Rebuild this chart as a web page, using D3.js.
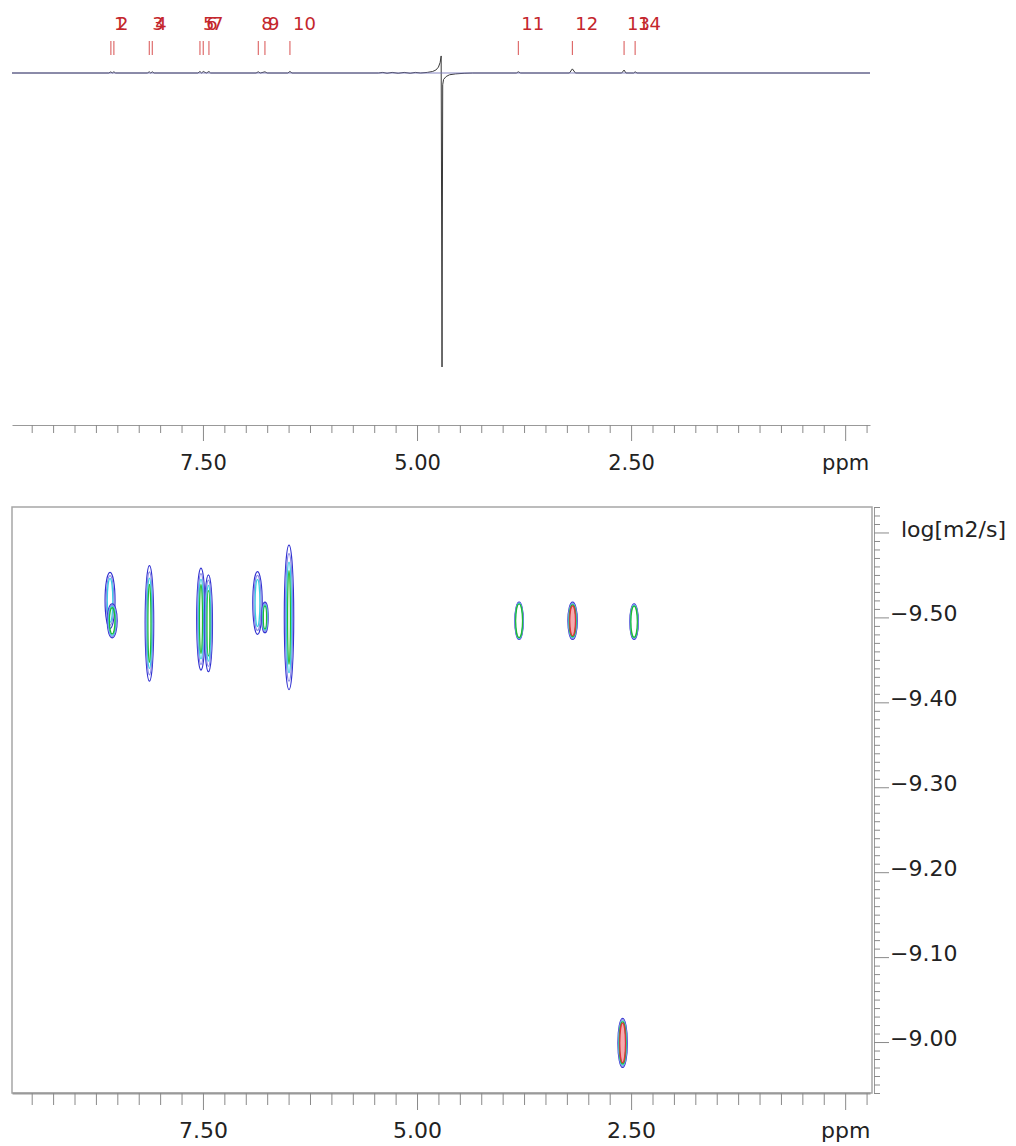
<!DOCTYPE html>
<html>
<head>
<meta charset="utf-8">
<script src="https://cdn.jsdelivr.net/npm/d3@7"></script>
<style>
  body { margin: 0; background: #fff; }
  svg text { font-family: "DejaVu Sans", sans-serif; }
</style>
</head>
<body>
<div id="chart"></div>
<script>
// peak picking on the 1D trace
const peakNums = [1, 2, 3, 4, 5, 6, 7, 8, 9, 10, 11, 12, 13, 14];
const peakPpm = [8.575, 8.540, 8.127, 8.092, 7.535, 7.497, 7.430, 6.854, 6.776, 6.484, 3.817, 3.186, 2.582, 2.453];

// 1D trace, [ppm, intensity] (water signal = -100)
const spectrum = [
  [9.73, 0], [8.60, 0], [8.575, 0.4], [8.56, 0], [8.54, 0.4], [8.52, 0],
  [8.15, 0], [8.127, 0.4], [8.11, 0], [8.092, 0.4], [8.07, 0],
  [7.56, 0], [7.535, 0.5], [7.515, 0], [7.497, 0.5], [7.46, 0], [7.43, 0.5], [7.41, 0],
  [6.88, 0], [6.854, 0.4], [6.83, 0], [6.776, 0.4], [6.75, 0],
  [6.51, 0], [6.484, 0.5], [6.46, 0],
  [5.45, 0], [5.40, 0.2], [5.35, -0.1], [5.29, 0.2], [5.22, -0.1], [5.15, 0.2], [5.08, -0.1],
  [5.02, 0.2], [4.96, 0], [4.88, 0.2], [4.82, 0.5], [4.78, 1.0], [4.75, 2.0], [4.73, 3.6],
  [4.718, 5.8], [4.708, -100], [4.700, -4.0], [4.69, -2.2], [4.66, -1.2], [4.62, -0.6],
  [4.55, -0.3], [4.45, -0.1], [4.35, 0],
  [3.84, 0], [3.817, 0.4], [3.79, 0],
  [3.22, 0], [3.186, 1.4], [3.15, 0],
  [2.61, 0], [2.582, 1.0], [2.56, 0], [2.47, 0], [2.453, 0.4], [2.43, 0],
  [-0.29, 0]
];

// DOSY cross peaks: centre, half extent of outer contour,
// number of contour levels and relative size of the innermost one
const blobPpm      = [8.585, 8.560, 8.125, 7.523, 7.436, 6.863, 6.776, 6.495, 3.808, 3.183, 2.465, 2.599];
const blobLogD     = [-9.520, -9.496, -9.493, -9.498, -9.493, -9.517, -9.500, -9.500, -9.496, -9.496, -9.495, -8.999];
const blobHalfPpm  = [0.058, 0.058, 0.050, 0.050, 0.047, 0.055, 0.037, 0.055, 0.050, 0.055, 0.050, 0.055];
const blobHalfLogD = [0.033, 0.020, 0.068, 0.060, 0.057, 0.037, 0.018, 0.085, 0.022, 0.022, 0.021, 0.029];
const blobLevels   = [3, 4, 4, 4, 4, 3, 4, 4, 4, 5, 4, 5];
const blobCore     = [0.55, 0.55, 0.35, 0.35, 0.35, 0.5, 0.5, 0.3, 0.8, 0.6, 0.75, 0.6];

const ppmMajor = [7.5, 5.0, 2.5, 0];
const logDMajor = [-9.6, -9.5, -9.4, -9.3, -9.2, -9.1, -9.0];

const levelColors = ["#3030d0", "#8c8ce6", "#3ccfe2", "#22b832", "#e0303a"];

const W = 1016, H = 1146;
const svg = d3.select("#chart").append("svg")
  .attr("width", W).attr("height", H);

const x = d3.scaleLinear().domain([9.73, -0.29]).range([12, 870]);
const yTop = d3.scaleLinear().domain([-100, 0]).range([367, 73]);
const y = d3.scaleLinear().domain([-9.63, -8.94]).range([507, 1093]);

const minorPpm = d3.range(9.5, -0.3, -0.25).filter(v => !ppmMajor.some(m => Math.abs(m - v) < 1e-6));
const ppmFmt = d => d === 0 ? "ppm" : d3.format(".2f")(d);

function styleAxis(g, size) {
  g.selectAll("path.domain").attr("stroke", "#999");
  g.selectAll("line").attr("stroke", "#8a8a8a");
  g.selectAll("text").attr("fill", "#222").style("font-size", size + "px");
}

// ---- top panel: 1D spectrum ----
const topPanel = svg.append("g");

topPanel.append("path")
  .datum(spectrum)
  .attr("fill", "none")
  .attr("stroke", "#3a3a3a")
  .attr("stroke-width", 1)
  .attr("d", d3.line().x(d => x(d[0])).y(d => yTop(d[1])));

topPanel.append("line")
  .attr("x1", x(9.73)).attr("x2", x(-0.29))
  .attr("y1", yTop(0)).attr("y2", yTop(0))
  .attr("stroke", "#7474b8").attr("stroke-opacity", 0.85).attr("stroke-width", 1.2);

// peak labels
const picks = topPanel.append("g");
peakNums.forEach((n, i) => {
  const px = x(peakPpm[i]);
  picks.append("line")
    .attr("x1", px).attr("x2", px).attr("y1", 41).attr("y2", 55)
    .attr("stroke", "#d85050").attr("stroke-width", 1);
  picks.append("text")
    .attr("x", px + 3).attr("y", 30)
    .attr("fill", "#c4262c")
    .style("font-size", "18px")
    .text(n);
});

// top axis
const topAxisMinor = topPanel.append("g").attr("transform", "translate(0,425)")
  .call(d3.axisBottom(x).tickValues(minorPpm).tickSize(8).tickSizeOuter(0).tickFormat(""));
styleAxis(topAxisMinor, 21);
const topAxis = topPanel.append("g").attr("transform", "translate(0,425)")
  .call(d3.axisBottom(x).tickValues(ppmMajor).tickSize(16).tickSizeOuter(0).tickPadding(14).tickFormat(ppmFmt));
styleAxis(topAxis, 21);
topAxis.select("path.domain").remove();

// ---- bottom panel: DOSY contour map ----
const bottomPanel = svg.append("g");

bottomPanel.append("rect")
  .attr("x", 12).attr("y", 507).attr("width", 860).attr("height", 586)
  .attr("fill", "#fff").attr("stroke", "#a6a6a6").attr("stroke-width", 1.5);

const blobs = bottomPanel.append("g");
blobPpm.forEach((p, i) => {
  const n = blobLevels[i];
  for (let k = 0; k < n; k++) {
    const s = 1 - (1 - blobCore[i]) * k / (n - 1);
    const rx = Math.abs(x(p + blobHalfPpm[i] * s) - x(p));
    const ry = Math.abs(y(blobLogD[i] + blobHalfLogD[i] * (0.5 + 0.5 * s)) - y(blobLogD[i]));
    const red = k === 4;
    blobs.append("ellipse")
      .attr("cx", x(p)).attr("cy", y(blobLogD[i]))
      .attr("rx", rx).attr("ry", ry)
      .attr("fill", red ? levelColors[k] : "none")
      .attr("fill-opacity", red ? 0.4 : 0)
      .attr("stroke", levelColors[k])
      .attr("stroke-width", 1.2);
  }
});

// bottom axis
const botAxisMinor = bottomPanel.append("g").attr("transform", "translate(0,1093)")
  .call(d3.axisBottom(x).tickValues(minorPpm).tickSize(12).tickSizeOuter(0).tickFormat(""));
styleAxis(botAxisMinor, 22);
botAxisMinor.select("path.domain").attr("stroke", "#9a9a9a").attr("stroke-width", 2);
const botAxis = bottomPanel.append("g").attr("transform", "translate(0,1093)")
  .call(d3.axisBottom(x).tickValues(ppmMajor).tickSize(17).tickSizeOuter(0).tickPadding(12).tickFormat(ppmFmt));
styleAxis(botAxis, 22);
botAxis.select("path.domain").remove();

// right axis
const minorLog = d3.range(-9.63, -8.939, 0.01).map(v => Math.round(v * 100) / 100)
  .filter(v => !logDMajor.some(m => Math.abs(m - v) < 1e-6));
const rightMinor = bottomPanel.append("g").attr("transform", "translate(874,0)")
  .call(d3.axisRight(y).tickValues(minorLog).tickSize(6).tickSizeOuter(0).tickFormat(""));
styleAxis(rightMinor, 22);
const rightAxis = bottomPanel.append("g").attr("transform", "translate(874,0)")
  .call(d3.axisRight(y).tickValues(logDMajor).tickSize(15).tickSizeOuter(0).tickPadding(1)
    .tickFormat(d => Math.abs(d + 9.6) < 1e-6 ? "log[m2/s]" : d3.format(".2f")(d)));
styleAxis(rightAxis, 22);
rightAxis.select("path.domain").remove();
rightAxis.selectAll("text").attr("dy", "0.14em");
rightAxis.selectAll(".tick").filter(d => Math.abs(d + 9.6) < 1e-6)
  .select("text").attr("x", 27).attr("dy", "0.2em");
</script>
</body>
</html>
